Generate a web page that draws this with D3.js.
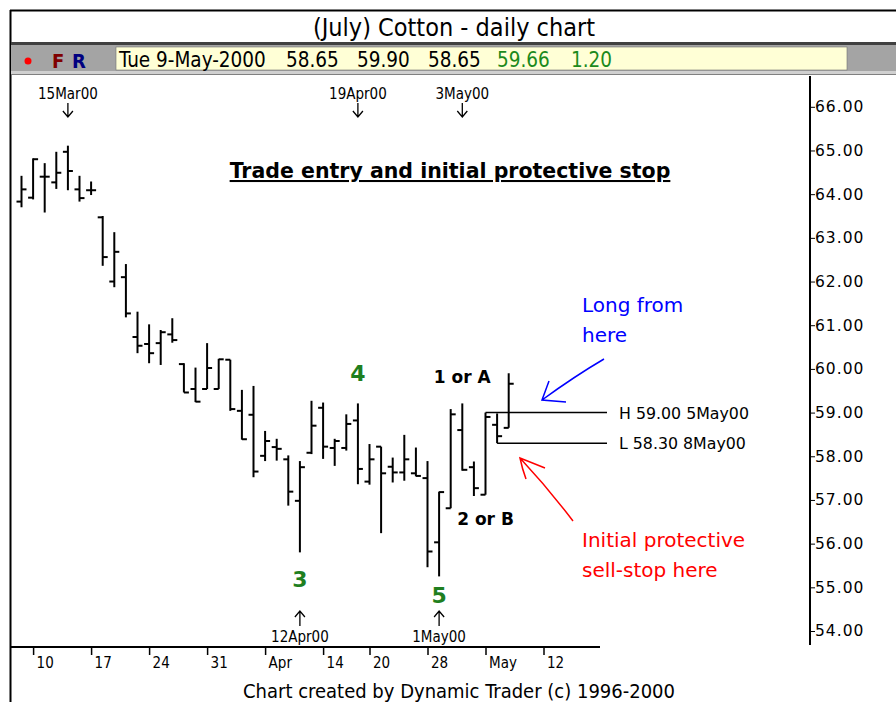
<!DOCTYPE html>
<html>
<head>
<meta charset="utf-8">
<script src="https://cdn.jsdelivr.net/npm/d3@7"></script>
<style>
  body { margin: 0; background: #fff; }
  svg { display: block; }
  .cond { font-family: "DejaVu Sans Condensed", "Liberation Sans Narrow", "DejaVu Sans", sans-serif; }
  .wide { font-family: "DejaVu Sans", Verdana, sans-serif; }
</style>
</head>
<body>
<div id="chart-area"></div>
<script>
// trading days shown, Mar 9 - May 9 2000 (Good Friday Apr 21 closed)
const dates = ["2000-03-09","2000-03-10","2000-03-13","2000-03-14","2000-03-15","2000-03-16","2000-03-17",
  "2000-03-20","2000-03-21","2000-03-22","2000-03-23","2000-03-24","2000-03-27","2000-03-28","2000-03-29",
  "2000-03-30","2000-03-31","2000-04-03","2000-04-04","2000-04-05","2000-04-06","2000-04-07","2000-04-10",
  "2000-04-11","2000-04-12","2000-04-13","2000-04-14","2000-04-17","2000-04-18","2000-04-19","2000-04-20",
  "2000-04-24","2000-04-25","2000-04-26","2000-04-27","2000-04-28","2000-05-01","2000-05-02","2000-05-03",
  "2000-05-04","2000-05-05","2000-05-08","2000-05-09"]
const futureDays = ["2000-05-10","2000-05-11","2000-05-12"]

const opens  = [63.83,63.92,64.40,64.27,64.97,64.11,64.09,63.47,62.00,62.10,60.73,60.57,60.59,60.79,60.11,
  59.54,59.54,59.54,60.21,59.04,58.95,58.01,58.21,57.93,56.98,58.08,59.11,58.19,58.19,58.82,57.42,
  58.22,57.76,57.63,57.61,57.50,56.03,56.81,58.60,57.75,57.12,58.72,58.65]
const highs  = [64.42,64.82,64.71,64.97,65.11,64.42,64.29,63.50,63.13,62.40,61.31,61.02,60.89,61.16,60.13,
  60.03,60.59,60.23,60.21,59.52,59.61,58.58,58.40,58.02,57.89,59.27,59.23,58.40,58.96,59.21,58.28,
  58.22,57.97,58.49,58.20,57.89,57.19,59.08,59.21,57.88,59.00,58.98,59.90]
const lows   = [63.70,63.88,63.58,64.12,64.09,63.83,63.98,62.36,61.87,61.18,60.36,60.13,60.09,60.60,59.46,
  59.24,59.54,59.54,59.04,58.38,57.52,57.89,57.90,56.87,55.80,58.05,57.94,57.78,58.13,57.36,57.35,
  56.24,57.40,57.44,57.54,55.46,55.25,56.81,57.67,57.09,57.12,58.30,58.65]
const closes = [64.11,64.80,64.40,64.49,64.53,63.91,64.09,62.56,62.68,61.27,60.53,60.36,60.84,60.66,59.46,
  59.25,60.02,60.22,59.08,58.39,57.65,58.35,58.17,57.19,57.75,58.70,58.22,58.35,58.74,57.71,57.93,
  57.61,57.63,57.93,57.55,55.82,57.18,58.96,57.69,57.27,58.90,58.46,59.66]

const tickDates  = ["2000-03-10","2000-03-17","2000-03-24","2000-03-31","2000-04-07","2000-04-14",
  "2000-04-20","2000-04-28","2000-05-05","2000-05-12"]
const tickLabels = ["10","17","24","31","Apr","14","20","28","May","12"]
const yTicks = [54,55,56,57,58,59,60,61,62,63,64,65,66]

const headerLabels = ["Tue 9-May-2000","58.65","59.90","58.65","59.66","1.20"]
const headerColors = ["#000","#000","#000","#000","#1c8a1c","#1c8a1c"]
const headerX = [119,286,357,428,497,571]

// date call-outs: above = arrow down, below = arrow up
const topMarks = [{date: "2000-03-15", label: "15Mar00"}, {date: "2000-04-19", label: "19Apr00"},
  {date: "2000-05-03", label: "3May00"}]
const bottomMarks = [{date: "2000-04-12", label: "12Apr00"}, {date: "2000-05-01", label: "1May00"}]

// wave counts: green at the pivots, black for the alternates
const waveLabels = [{date: "2000-04-12", text: "3", price: 55.0, color: "#1f7f1f"},
  {date: "2000-04-19", text: "4", price: 59.72, color: "#1f7f1f"},
  {date: "2000-05-01", text: "5", price: 54.65, color: "#1f7f1f"},
  {date: "2000-05-03", text: "1 or A", price: 59.68, color: "#000"},
  {date: "2000-05-05", text: "2 or B", price: 56.42, color: "#000"}]

// horizontal high / low lines
const levels = [{date: "2000-05-05", price: 59.00, label: "H 59.00 5May00"},
  {date: "2000-05-08", price: 58.30, label: "L 58.30 8May00"}]

const W = 896, H = 702

const svg = d3.select("#chart-area").append("svg")
    .attr("width", W)
    .attr("height", H)

// window frame + header
svg.append("rect").attr("x", 0).attr("y", 0).attr("width", W).attr("height", H).attr("fill", "#fff")
svg.append("line").attr("x1", 10).attr("x2", W).attr("y1", 10.5).attr("y2", 10.5)
    .attr("stroke", "#000").attr("stroke-width", 2)
svg.append("line").attr("x1", 10.5).attr("x2", 10.5).attr("y1", 10).attr("y2", H)
    .attr("stroke", "#000").attr("stroke-width", 2)

svg.append("text")
    .attr("class", "cond")
    .attr("x", 454).attr("y", 36)
    .attr("font-size", "25px")
    .attr("text-anchor", "middle")
    .text("(July) Cotton - daily chart")

svg.append("rect").attr("x", 11).attr("y", 42).attr("width", W - 11).attr("height", 3).attr("fill", "#404040")
svg.append("rect").attr("x", 11).attr("y", 45).attr("width", W - 11).attr("height", 26).attr("fill", "#a4a4a4")
svg.append("rect").attr("x", 116).attr("y", 47).attr("width", 731).attr("height", 23)
    .attr("fill", "#ffffd6").attr("stroke", "#707070").attr("stroke-width", 0.6)
svg.append("rect").attr("x", 11).attr("y", 71).attr("width", W - 11).attr("height", 3).attr("fill", "#d0d0d0")
svg.append("line").attr("x1", 11).attr("x2", W).attr("y1", 74.5).attr("y2", 74.5).attr("stroke", "#808080")

svg.append("circle").attr("cx", 28).attr("cy", 61).attr("r", 3.5).attr("fill", "#ff0000")
svg.append("text").attr("class", "cond").attr("x", 52).attr("y", 68)
    .attr("font-size", "20px").attr("font-weight", "bold").attr("fill", "#800000").text("F")
svg.append("text").attr("class", "cond").attr("x", 72).attr("y", 68)
    .attr("font-size", "20px").attr("font-weight", "bold").attr("fill", "#000080").text("R")

svg.selectAll(".hdr").data(headerLabels).enter().append("text")
    .attr("class", "cond hdr")
    .attr("x", (d, i) => headerX[i])
    .attr("y", 67)
    .attr("font-size", "20.5px")
    .attr("fill", (d, i) => headerColors[i])
    .text(d => d)

// scales
const x = d3.scalePoint()
    .domain(dates.concat(futureDays))
    .range([21.5, 21.5 + 45 * 11.6])

const y = d3.scaleLinear().domain([54, 66]).range([631, 106.8])

const g = svg.append("g")

// x axis
g.append("line").attr("x1", 10).attr("x2", 600).attr("y1", 647).attr("y2", 647)
    .attr("stroke", "#000").attr("stroke-width", 2)
const xAxisCall = d3.axisBottom(x)
    .tickValues(tickDates)
    .tickFormat((d, i) => tickLabels[i])
    .tickSize(8)
const xAx = g.append("g")
    .attr("class", "x axis")
    .attr("transform", "translate(0, 647)")
    .call(xAxisCall)
xAx.select(".domain").remove()
xAx.selectAll("line").attr("stroke-width", 1.5)
xAx.selectAll("text")
    .attr("class", "cond")
    .attr("font-size", "15px")
    .attr("fill", "#000")
    .attr("text-anchor", "start")
    .attr("x", 3)
    .attr("y", 10)

// y axis
g.append("line").attr("x1", 810).attr("x2", 810).attr("y1", 76).attr("y2", 645)
    .attr("stroke", "#000").attr("stroke-width", 2)
const yAxisCall = d3.axisRight(y)
    .tickValues(yTicks)
    .tickFormat(d3.format(".2f"))
    .tickSize(5)
    .tickPadding(0)
const yAx = g.append("g")
    .attr("class", "y axis")
    .attr("transform", "translate(810, 0)")
    .call(yAxisCall)
yAx.select(".domain").remove()
yAx.selectAll("text")
    .attr("class", "wide")
    .attr("font-size", "15.5px")
    .attr("letter-spacing", "1px")
    .attr("fill", "#000")

// OHLC bars
const bars = g.selectAll(".bar").data(dates).enter().append("g").attr("class", "bar")
bars.append("line")
    .attr("x1", d => x(d)).attr("x2", d => x(d))
    .attr("y1", (d, i) => y(highs[i])).attr("y2", (d, i) => y(lows[i]))
    .attr("stroke", "#000").attr("stroke-width", 2)
bars.append("line")
    .attr("x1", d => x(d) - 5).attr("x2", d => x(d))
    .attr("y1", (d, i) => y(opens[i])).attr("y2", (d, i) => y(opens[i]))
    .attr("stroke", "#000").attr("stroke-width", 2)
bars.append("line")
    .attr("x1", d => x(d)).attr("x2", d => x(d) + 5)
    .attr("y1", (d, i) => y(closes[i])).attr("y2", (d, i) => y(closes[i]))
    .attr("stroke", "#000").attr("stroke-width", 2)

// high / low levels
levels.forEach(l => {
    g.append("line")
        .attr("x1", x(l.date)).attr("x2", 607)
        .attr("y1", y(l.price)).attr("y2", y(l.price))
        .attr("stroke", "#000").attr("stroke-width", 1.5)
    g.append("text")
        .attr("class", "wide")
        .attr("x", 619).attr("y", y(l.price) + 6)
        .attr("font-size", "15.8px")
        .text(l.label)
})

// date call-outs
topMarks.forEach(m => {
    const cx = x(m.date)
    g.append("text").attr("class", "cond")
        .attr("x", cx).attr("y", 99)
        .attr("font-size", "15px").attr("text-anchor", "middle")
        .text(m.label)
    g.append("path")
        .attr("d", `M${cx},103 V117 M${cx - 5},111 L${cx},117 L${cx + 5},111`)
        .attr("fill", "none").attr("stroke", "#000").attr("stroke-width", 1.3)
})
bottomMarks.forEach(m => {
    const cx = x(m.date)
    g.append("text").attr("class", "cond")
        .attr("x", cx).attr("y", 642)
        .attr("font-size", "15px").attr("text-anchor", "middle")
        .text(m.label)
    g.append("path")
        .attr("d", `M${cx},626 V611 M${cx - 5},617 L${cx},611 L${cx + 5},617`)
        .attr("fill", "none").attr("stroke", "#000").attr("stroke-width", 1.3)
})

// wave labels
g.selectAll(".wave").data(waveLabels).enter().append("text")
    .attr("class", "wide wave")
    .attr("x", d => x(d.date))
    .attr("y", d => y(d.price))
    .attr("text-anchor", "middle")
    .attr("font-weight", "bold")
    .attr("font-size", d => d.color === "#000" ? "17px" : "22px")
    .attr("fill", d => d.color)
    .text(d => d.text)

// heading
g.append("text")
    .attr("class", "wide")
    .attr("x", 450).attr("y", 178)
    .attr("font-size", "20.5px")
    .attr("font-weight", "bold")
    .attr("text-anchor", "middle")
    .attr("text-decoration", "underline")
    .text("Trade entry and initial protective stop")

// notes
g.append("text").attr("class", "wide").attr("x", 582).attr("y", 312)
    .attr("font-size", "20px").attr("fill", "#0000ff").text("Long from")
g.append("text").attr("class", "wide").attr("x", 582).attr("y", 342)
    .attr("font-size", "20px").attr("fill", "#0000ff").text("here")
g.append("path")
    .attr("d", "M604,359 Q575,376 542,400 M549,381 Q545,392 542,400 L566,402")
    .attr("fill", "none").attr("stroke", "#0000ff").attr("stroke-width", 1.5)

g.append("text").attr("class", "wide").attr("x", 582).attr("y", 547)
    .attr("font-size", "20px").attr("fill", "#ff0000").text("Initial protective")
g.append("text").attr("class", "wide").attr("x", 582).attr("y", 577)
    .attr("font-size", "20px").attr("fill", "#ff0000").text("sell-stop here")
g.append("path")
    .attr("d", "M573,521 Q548,488 520,458 M526,479 Q522,468 520,458 L545,468")
    .attr("fill", "none").attr("stroke", "#ff0000").attr("stroke-width", 1.5)

// footer
svg.append("text")
    .attr("class", "cond")
    .attr("x", 459).attr("y", 698)
    .attr("font-size", "20px")
    .attr("text-anchor", "middle")
    .text("Chart created by Dynamic Trader (c) 1996-2000")
</script>
</body>
</html>
